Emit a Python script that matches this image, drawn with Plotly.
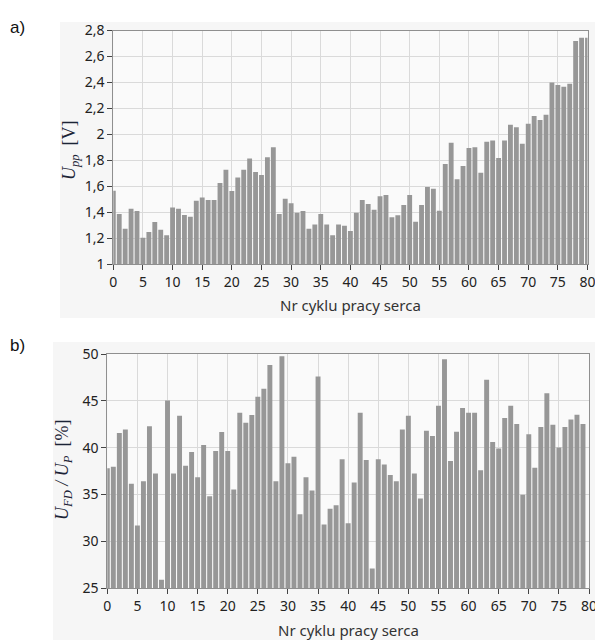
import plotly.graph_objects as go

# ---- data ----
cycles_a = list(range(0, 81))
upp = [1.566, 1.387, 1.274, 1.428, 1.41, 1.205, 1.248, 1.325, 1.266, 1.223,
       1.438, 1.428, 1.38, 1.366, 1.49, 1.515, 1.495, 1.495, 1.625, 1.728,
       1.564, 1.669, 1.728, 1.815, 1.71, 1.687, 1.825, 1.902, 1.387, 1.505,
       1.47, 1.397, 1.41, 1.274, 1.307, 1.387, 1.307, 1.223, 1.307, 1.297,
       1.256, 1.397, 1.495, 1.464, 1.42, 1.523, 1.533, 1.362, 1.377, 1.456,
       1.533, 1.328, 1.456, 1.595, 1.582, 1.413, 1.772, 1.936, 1.654, 1.756,
       1.895, 1.902, 1.705, 1.944, 1.954, 1.818, 1.954, 2.074, 2.056, 1.928,
       2.082, 2.141, 2.11, 2.151, 2.4, 2.38, 2.366, 2.39, 2.72, 2.745, 2.745]

cycles_b = list(range(0, 80))
ufd_up = [37.82, 37.96, 41.56, 41.95, 36.15, 31.7, 36.43, 42.3, 37.25, 25.9,
          45.05, 37.25, 43.4, 38.07, 39.53, 36.86, 40.28, 34.83, 39.64, 41.67,
          39.64, 35.54, 43.73, 42.66, 43.48, 45.44, 46.3, 48.82, 36.43, 49.75,
          38.35, 39.03, 32.9, 36.86, 35.43, 47.61, 31.8, 33.5, 33.87, 38.78,
          31.94, 36.29, 43.73, 38.68, 27.1, 38.78, 38.21, 37.1, 36.43, 41.95,
          43.4, 37.25, 34.58, 41.81, 41.24, 44.48, 49.43, 38.57, 41.7, 44.23,
          43.73, 43.73, 37.6, 47.26, 40.6, 39.92, 43.16, 44.48, 42.52, 34.97,
          41.45, 37.86, 42.2, 45.8, 42.45, 40.03, 42.2, 43.02, 43.52, 42.52]

x_ticks = list(range(0, 81, 5))
ya_ticks = [1, 1.2, 1.4, 1.6, 1.8, 2, 2.2, 2.4, 2.6, 2.8]
yb_ticks = [25, 30, 35, 40, 45, 50]

# page body has an 8px margin; figure is sized to fill the rest of the window
OX, OY = 8, 8
W, H = 603 - OX, 640 - OY
BAR = "#979797"
GRID = "#dadada"
LINE = "#8f8f8f"
TXT = "#222222"
FONT = "Noto Sans"


def fx(p):
    return min(max((p - OX) / W, 0), 1)


def fy(p):
    return min(max(1 - (p - OY) / H, 0), 1)


fig = go.Figure()
fig.add_trace(go.Bar(x=cycles_a, y=upp, marker=dict(color=BAR, line=dict(width=0)),
                     width=0.82, xaxis="x", yaxis="y", showlegend=False))
fig.add_trace(go.Bar(x=cycles_b, y=ufd_up, marker=dict(color=BAR, line=dict(width=0)),
                     width=0.82, xaxis="x2", yaxis="y2", showlegend=False))

axis_common = dict(showgrid=True, gridcolor=GRID, gridwidth=1, showline=True,
                   linecolor=LINE, linewidth=1, mirror=True, ticks="outside",
                   ticklen=5, tickcolor="#444", zeroline=False, automargin=False,
                   tickfont=dict(family=FONT, size=14, color=TXT))

fig.update_layout(
    width=W, height=H, margin=dict(l=0, r=0, t=0, b=0, pad=0, autoexpand=False),
    paper_bgcolor="white", plot_bgcolor="#fafafa",
    separators=", ", bargap=0.18,
    xaxis=dict(domain=[fx(113.3), fx(587.5)], range=[0, 80], tickvals=x_ticks,
               anchor="y", **axis_common),
    yaxis=dict(domain=[fy(264.3), fy(30.5)], range=[1, 2.8], tickvals=ya_ticks,
               anchor="x", **axis_common),
    xaxis2=dict(domain=[fx(107.3), fx(589)], range=[0, 80], tickvals=x_ticks,
                anchor="y2", **axis_common),
    yaxis2=dict(domain=[fy(588.3), fy(354)], range=[25, 50], tickvals=yb_ticks,
                anchor="x2", **axis_common),
)

shapes = [
    dict(type="rect", xref="paper", yref="paper", x0=fx(60), x1=fx(598),
         y0=fy(318), y1=fy(22), fillcolor="#f6f6f6", line=dict(width=0), layer="below"),
    dict(type="rect", xref="paper", yref="paper", x0=fx(53), x1=fx(600),
         y0=0, y1=fy(342), fillcolor="#f6f6f6", line=dict(width=0), layer="below"),
    dict(type="rect", xref="x domain", yref="y domain", x0=0, x1=1, y0=0, y1=1,
         fillcolor="#fafafa", line=dict(width=0), layer="below"),
    dict(type="rect", xref="x2 domain", yref="y2 domain", x0=0, x1=1, y0=0, y1=1,
         fillcolor="#fafafa", line=dict(width=0), layer="below"),
]
fig.update_layout(shapes=shapes)

ann = [
    dict(text="a)", x=fx(8), y=fy(27), xref="paper", yref="paper", showarrow=False,
         xanchor="left", yanchor="middle", font=dict(family="Liberation Sans", size=17, color="#111")),
    dict(text="b)", x=fx(8), y=fy(345), xref="paper", yref="paper", showarrow=False,
         xanchor="left", yanchor="middle", font=dict(family="Liberation Sans", size=17, color="#111")),
    dict(text="Nr cyklu pracy serca", x=fx(350), y=fy(305), xref="paper", yref="paper",
         showarrow=False, xanchor="center", yanchor="middle",
         font=dict(family=FONT, size=15, color="#333")),
    dict(text="Nr cyklu pracy serca", x=fx(348), y=fy(630), xref="paper", yref="paper",
         showarrow=False, xanchor="center", yanchor="middle",
         font=dict(family=FONT, size=15, color="#333")),
    dict(text="<i>U<sub>pp</sub></i>  [V]", x=fx(71), y=fy(150), xref="paper", yref="paper",
         showarrow=False, textangle=-90, xanchor="center", yanchor="middle",
         font=dict(family="Liberation Serif", size=18, color="#1c2436")),
    dict(text="<i>U<sub>FD</sub> / U<sub>P</sub></i>  [%]", x=fx(63), y=fy(470),
         xref="paper", yref="paper", showarrow=False, textangle=-90,
         xanchor="center", yanchor="middle",
         font=dict(family="Liberation Serif", size=18, color="#1c2436")),
]
fig.update_layout(annotations=ann)

fig.write_html("out.html")
